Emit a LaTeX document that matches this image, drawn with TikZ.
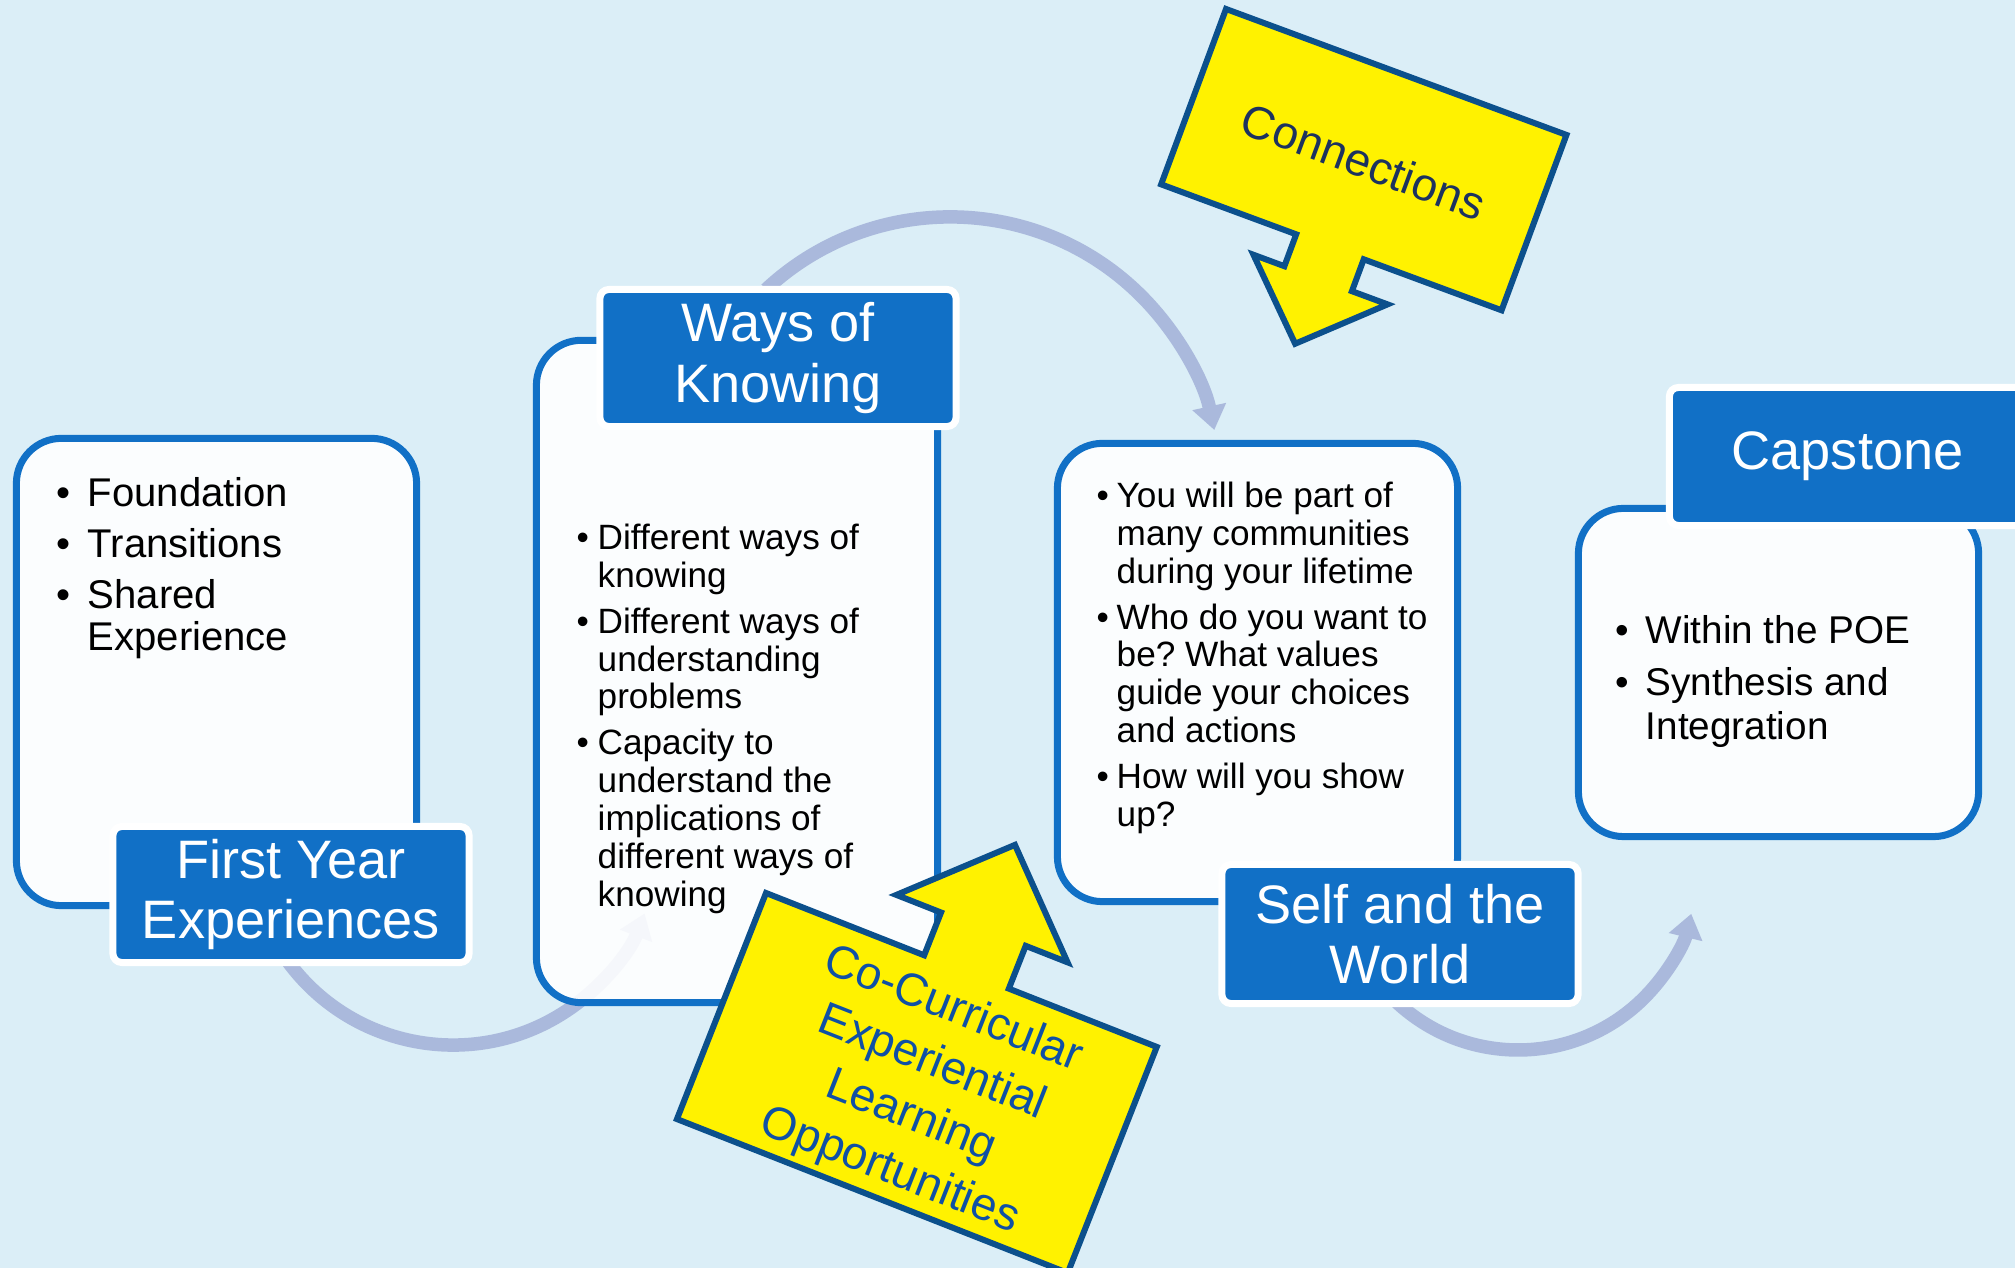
\documentclass[tikz,border=0pt]{standalone}
\usepackage{fontspec}
\setmainfont{Liberation Sans}
\frenchspacing
\usetikzlibrary{arrows.meta}
\definecolor{bg}{RGB}{219,238,247}
\definecolor{boxblue}{RGB}{17,112,198}
\definecolor{flowcol}{RGB}{170,185,220}
\definecolor{callstroke}{RGB}{12,80,140}
\definecolor{connText}{RGB}{28,50,95}
\definecolor{coText}{RGB}{16,80,165}
\begin{document}
\begin{tikzpicture}[x=0.01cm, y=-0.01cm,
  box/.style={draw=boxblue, line width=0.07cm, fill=white, fill opacity=0.89, rounded corners=0.45cm, inner sep=0pt, outer sep=0pt},
  lab/.style={fill=boxblue, draw=white, line width=0.07cm, rounded corners=0.09cm, minimum width=3.56cm, inner sep=0pt, text=white, align=center, font=\fontsize{15.4pt}{17.1pt}\selectfont},
  flow/.style={draw=flowcol, line width=0.135cm, -{Triangle[width=0.33cm,length=0.24cm]}},
  callout/.style={draw=callstroke, fill=yellow, line width=0.06cm, line join=miter},
  body/.style={anchor=north west, inner sep=0pt, text=black}
]
\clip (0,0) rectangle (2015,1268);
\fill[bg] (0,0) rectangle (2015,1268);

% curved flow arrows
\coordinate (fa) at (285.1,957.6);
\coordinate (fb) at (766.0,289.5);
\coordinate (fc) at (1394.4,1000.0);
\draw[flow] (fa) arc[start angle=-145, end angle=-21, radius=2.05cm];
\draw[flow] (fb) arc[start angle=133, end angle=12.2, radius=2.70cm];
\draw[flow] (fc) arc[start angle=-134, end angle=-13.6, radius=1.78cm];

% boxes
\node[box, minimum width=4.00cm, minimum height=4.67cm] (box1) at (216.5,672) {};
\node[box, minimum width=4.01cm, minimum height=6.62cm] (box2) at (737,671.5) {};
\node[box, minimum width=4.00cm, minimum height=4.58cm] (box3) at (1257.5,672.5) {};
\node[box, minimum width=4.00cm, minimum height=3.28cm] (box4) at (1778.5,672.5) {};

% labels
\node[lab, minimum height=1.36cm] (lab1) at (291,894.5) {First Year\\Experiences};
\node[lab, minimum height=1.37cm] (lab2) at (778,358) {Ways of\\Knowing};
\node[lab, minimum height=1.39cm] (lab3) at (1400,934) {Self and the\\World};
\node[lab, minimum height=1.38cm] (lab4) at (1847.5,456.5) {Capstone};

% body texts
\node[body, font=\fontsize{11.4pt}{11.8pt}\selectfont] (t1) at (56,477)
 {\begin{tabular}{@{}p{0.31cm}@{}l@{}}•&Foundation\\[2.7pt]•&Transitions\\[2.7pt]•&Shared\\&Experience\end{tabular}};
\node[body, font=\fontsize{10pt}{10.8pt}\selectfont] (t2) at (576,522.4)
 {\begin{tabular}{@{}p{0.21cm}@{}l@{}}•&Different ways of\\&knowing\\[2.1pt]•&Different ways of\\&understanding\\&problems\\[2.1pt]•&Capacity to\\&understand the\\&implications of\\&different ways of\\&knowing\end{tabular}};
\node[body, font=\fontsize{10pt}{10.8pt}\selectfont] (t3) at (1096,480.4)
 {\begin{tabular}{@{}p{0.20cm}@{}l@{}}•&You will be part of\\&many communities\\&during your lifetime\\[2.1pt]•&Who do you want to\\&be? What values\\&guide your choices\\&and actions\\[2.1pt]•&How will you show\\&up?\end{tabular}};
\node[body, font=\fontsize{11pt}{12.5pt}\selectfont] (t4) at (1615,612.2)
 {\begin{tabular}{@{}p{0.30cm}@{}l@{}}•&Within the POE\\[2.3pt]•&Synthesis and\\&Integration\end{tabular}};

% callout: Connections
\begin{scope}[shift={(1226,9)}, rotate=-20.3]
\draw[callout] (0,0) -- (363,0) -- (363,187) -- (216,187) -- (216,221) -- (254,221) -- (181,290) -- (111,221) -- (144,221) -- (144,187) -- (0,187) -- cycle;
\node[rotate=-20.3, text=connText, inner sep=0pt, font=\fontsize{13.1pt}{16.4pt}\selectfont] (conn) at (182,95) {Connections};
\end{scope}

% callout: Co-Curricular
\begin{scope}[shift={(766,893)}, rotate=-21.5]
\draw[callout] (0,0) -- (170,0) -- (170,-46) -- (122,-46) -- (214,-136) -- (306,-46) -- (261,-46) -- (261,0) -- (420,0) -- (420,243) -- (0,243) -- cycle;
\node[rotate=-21.5, text=coText, align=center, inner sep=0pt, font=\fontsize{13.1pt}{16.4pt}\selectfont] (cocur) at (217,127) {Co-Curricular\\Experiential\\Learning\\Opportunities};
\end{scope}
\end{tikzpicture}
\end{document}
